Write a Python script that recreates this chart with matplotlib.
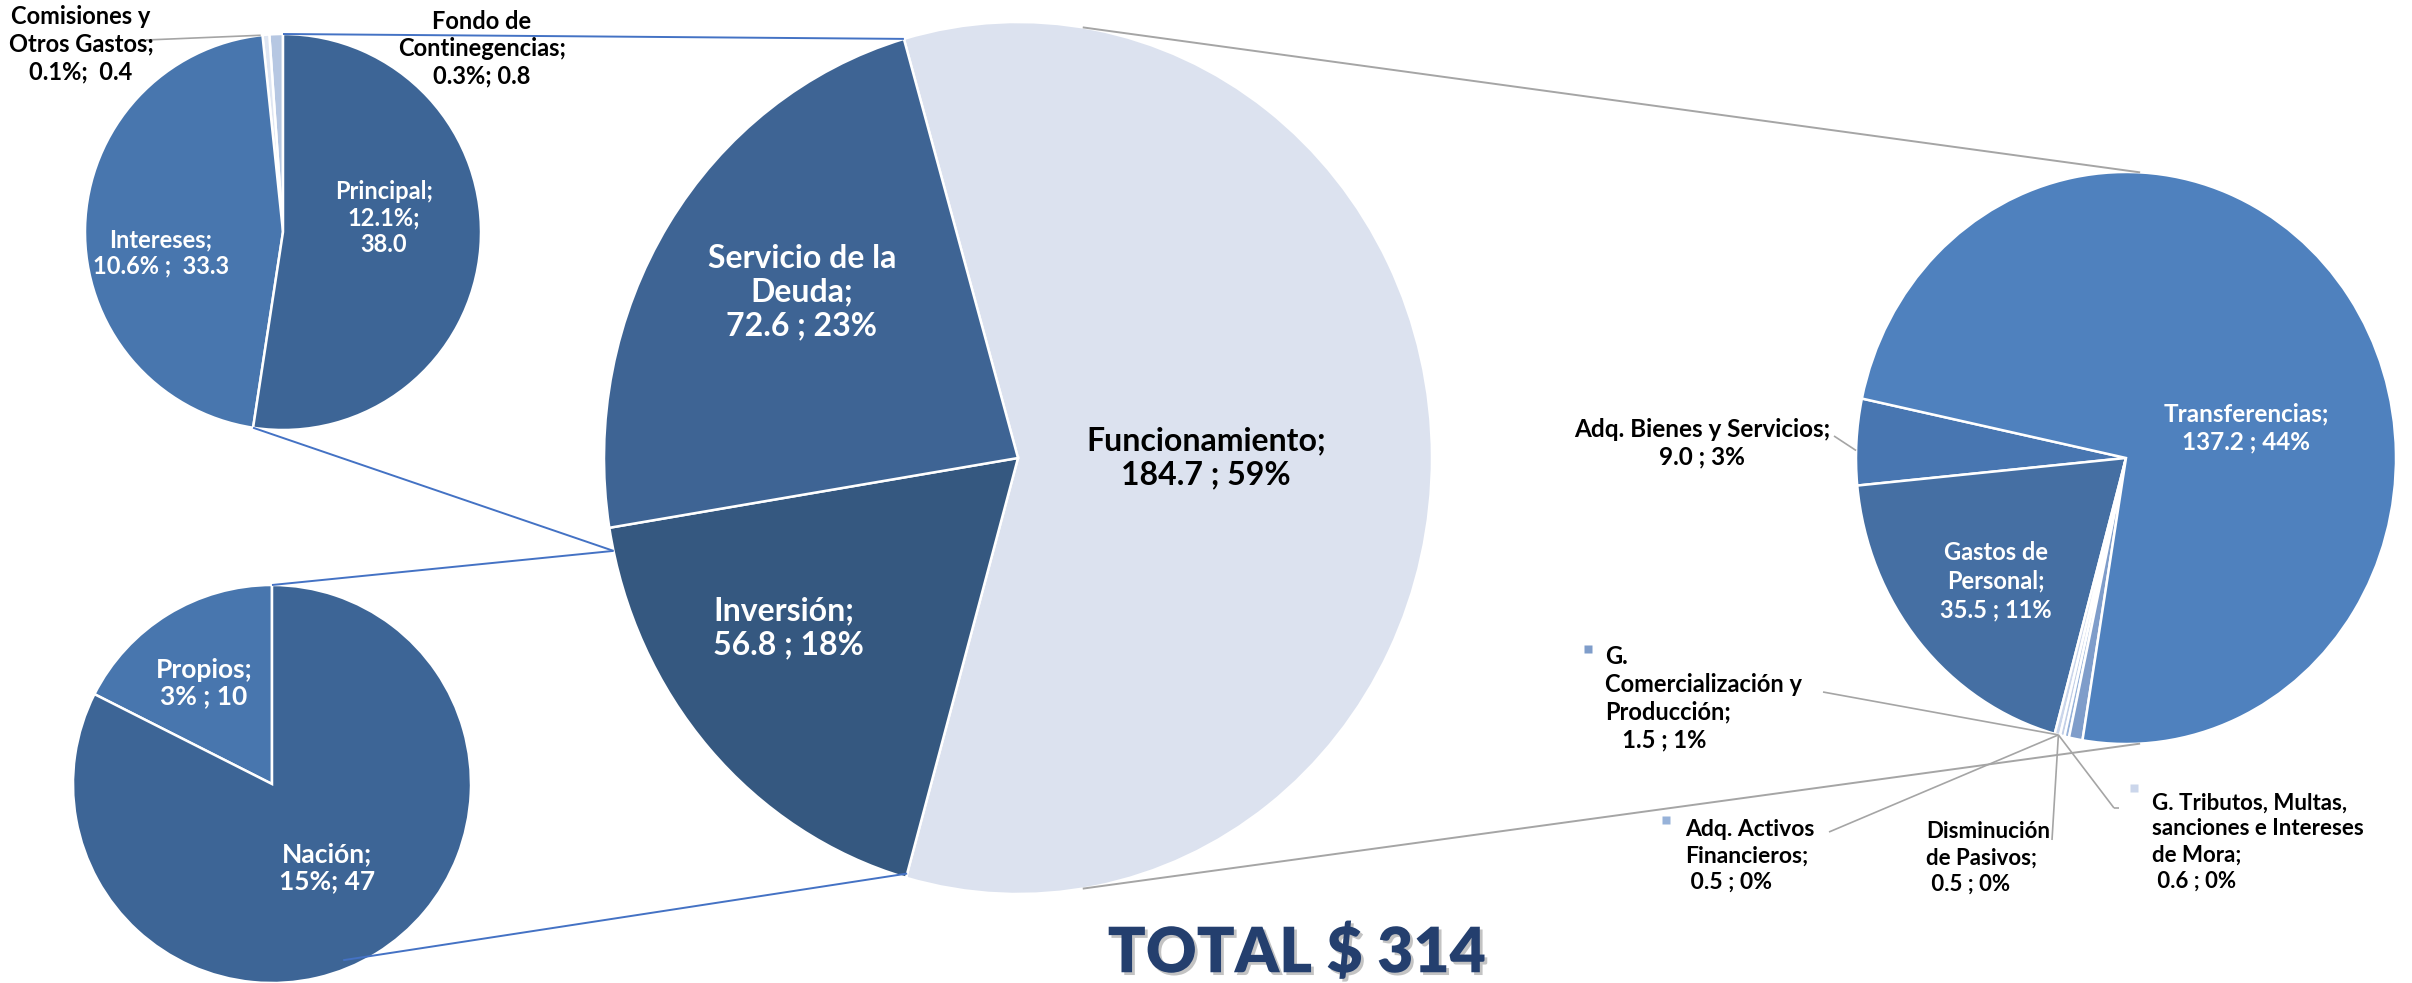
import numpy as np
import matplotlib
matplotlib.use('Agg')
import matplotlib.pyplot as plt
import matplotlib.patheffects as pe

plt.rcParams['font.family'] = ['Lato', 'DejaVu Sans']
plt.rcParams['font.weight'] = 'bold'

# --- datos (miles de millones) ---
total = 314

main_labels = ['Funcionamiento;\n184.7 ; 59%', 'Inversión;\n56.8 ; 18%',
               'Servicio de la\nDeuda;\n72.6 ; 23%']
main_values = [184.7, 56.8, 72.6]
main_colors = ['#DCE2EF', '#355880', '#3E6494']

deuda_labels = ['Fondo de\nContinegencias;\n0.3%; 0.8', 'Comisiones y\nOtros Gastos;\n0.1%;  0.4',
                'Intereses;\n10.6% ;  33.3', 'Principal;\n12.1%;\n38.0']
deuda_values = [0.8, 0.4, 33.3, 38.0]
deuda_colors = ['#B6C7E2', '#DFE6F2', '#4876AE', '#3D6596']

inv_labels = ['Propios;\n3% ; 10', 'Nación;\n15%; 47']
inv_values = [10, 47]
inv_colors = ['#4876AE', '#3D6596']

func_labels = ['Adq. Bienes y Servicios;\n9.0 ; 3%', 'Gastos de\nPersonal;\n35.5 ; 11%',
               'G. Tributos, Multas,\nsanciones e Intereses\nde Mora;\n 0.6 ; 0%',
               'Disminución\nde Pasivos;\n 0.5 ; 0%',
               'Adq. Activos\nFinancieros;\n 0.5 ; 0%',
               'G.\nComercialización y\nProducción;\n   1.5 ; 1%',
               'Transferencias;\n137.2 ; 44%']
func_values = [9.0, 35.5, 0.6, 0.5, 0.5, 1.5, 137.2]
func_colors = ['#4876B1', '#456FA3', '#CBD6EB', '#C2CFE7', '#97B2D9', '#7F9DCA', '#4F81BE']

# --- geometría en píxeles (cx, cy, rx, ry), y desde arriba ---
W, H = 2412, 983
MAIN = (1018, 458, 414, 436)
DEUDA = (283, 232, 198, 198)
INV = (272, 784, 199, 199)
FUNC = (2126, 458, 270, 286)

fig = plt.figure(figsize=(W / 100, H / 100), dpi=100)
fig.patch.set_facecolor('white')

PAD = 1.03


def dibujar_pie(geom, values, colors, start, counterclock=True):
    cx, cy, rx, ry = geom
    ax = fig.add_axes([(cx - rx * PAD) / W, 1 - (cy + ry * PAD) / H,
                       2 * rx * PAD / W, 2 * ry * PAD / H])
    ax.pie(values, colors=colors, startangle=start, counterclock=counterclock,
           radius=1, wedgeprops=dict(edgecolor='white', linewidth=1.8))
    ax.set_aspect('auto')
    ax.set_xlim(-PAD, PAD); ax.set_ylim(-PAD, PAD)
    ax.axis('off')
    return ax


def pt(geom, ang, r=1.0):
    cx, cy, rx, ry = geom
    a = np.deg2rad(ang)
    return cx + r * rx * np.cos(a), cy - r * ry * np.sin(a)


dibujar_pie(MAIN, main_values, main_colors, 106, counterclock=False)
dibujar_pie(DEUDA, deuda_values, deuda_colors, 90)
dibujar_pie(INV, inv_values, inv_colors, 90)
dibujar_pie(FUNC, func_values, func_colors, 168)

# capa superior en píxeles
ov = fig.add_axes([0, 0, 1, 1], zorder=5)
ov.set_xlim(0, W); ov.set_ylim(H, 0)
ov.axis('off')
ov.patch.set_alpha(0)

# fronteras de cuñas a partir de los valores
deuda_b = 90 + np.cumsum(deuda_values) / sum(deuda_values) * 360
main_b = 106 - np.cumsum(main_values) / sum(main_values) * 360

azul = '#4472C4'
gris = '#A5A5A5'


def linea(p1, p2, color, lw=1.4):
    ov.plot([p1[0], p2[0]], [p1[1], p2[1]], color=color, lw=lw, solid_capstyle='butt')


# conexiones
p_izq = pt(MAIN, 192.3)
linea(pt(DEUDA, 90), pt(MAIN, 106), azul)
linea(pt(DEUDA, deuda_b[2]), p_izq, azul)
linea(pt(INV, 90), p_izq, azul)
linea(pt(INV, -68, 0.955), pt(MAIN, main_b[0], 0.99), azul)
linea(pt(MAIN, 81), pt(FUNC, 87), gris)
linea(pt(MAIN, -81), pt(FUNC, -87), gris)

# líneas guía
p_peq = pt(FUNC, 255.5)
linea((146, 40), pt(DEUDA, deuda_b[0] + 2.5), gris, 1.2)
linea((1834, 436), pt(FUNC, 178.5), gris, 1.2)
linea((1823, 692), p_peq, gris, 1.2)
linea((1829, 832), p_peq, gris, 1.2)
linea((2052, 840), p_peq, gris, 1.2)
linea((2119, 808), (2114, 808), gris, 1.2)
linea((2114, 808), p_peq, gris, 1.2)


def etiqueta(x, y, s, size, color='white', ha='center', ma='center', ls=1.2):
    ov.text(x, y, s, fontsize=size, color=color, ha=ha, va='center',
            multialignment=ma, linespacing=ls, fontweight='bold')


# pie principal
etiqueta(1206, 458, main_labels[0], 23, color='black')
etiqueta(713, 628, main_labels[1], 23, ha='left', ma='left')
etiqueta(802, 292, main_labels[2], 23)

# servicio de la deuda
etiqueta(482, 49, deuda_labels[0], 17, color='black', ls=1.22)
etiqueta(81, 44, deuda_labels[1], 17, color='black', ls=1.25)
etiqueta(161, 253, deuda_labels[2], 17, ls=1.2)
etiqueta(384, 218, deuda_labels[3], 17, ls=1.2)

# inversión
etiqueta(204, 683, inv_labels[0], 19, ls=1.15)
etiqueta(327, 868, inv_labels[1], 19, ls=1.15)

# funcionamiento
etiqueta(1702, 443, func_labels[0], 17.5, color='black', ls=1.25)
etiqueta(1996, 581, func_labels[1], 17, ls=1.3)
etiqueta(2152, 842, func_labels[2], 16, color='black', ha='left', ma='left', ls=1.3)
etiqueta(1926, 858, func_labels[3], 16, color='black', ha='left', ma='left', ls=1.3)
etiqueta(1685, 856, func_labels[4], 16.5, color='black', ha='left', ma='left', ls=1.3)
etiqueta(1605, 698, func_labels[5], 17, color='black', ha='left', ma='left', ls=1.25)
etiqueta(2246, 428, func_labels[6], 17.5, ls=1.25)

# marcadores tipo leyenda
for (mx, my), c in zip([(2134, 788), (1666, 820), (1588, 649)],
                       [func_colors[2], func_colors[4], func_colors[5]]):
    ov.plot(mx, my, marker='s', ms=6, color=c, mec='none')

ov.text(1297, 953, f'TOTAL $ {total}', fontsize=45, color='#243F6E', ha='center',
        va='center', fontweight='heavy',
        path_effects=[pe.withSimplePatchShadow(offset=(2, -2), shadow_rgbFace='#888888', alpha=0.5)])

fig.savefig('out.png', dpi=100, facecolor='white')
